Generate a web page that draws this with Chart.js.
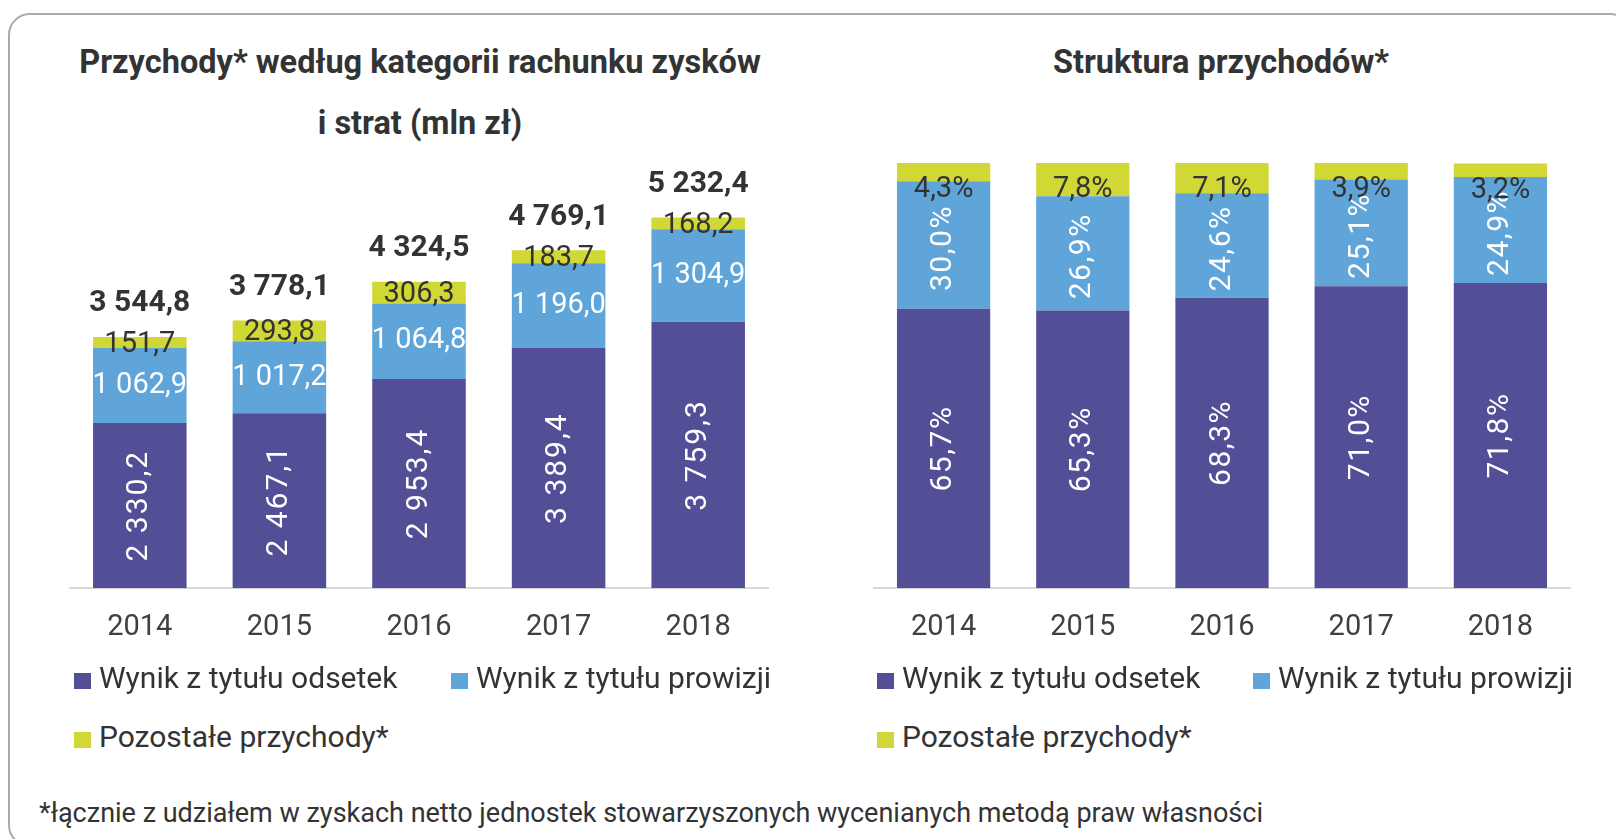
<!DOCTYPE html>
<html>
<head>
<meta charset="utf-8">
<script src="https://cdn.jsdelivr.net/npm/chart.js@4"></script>
<style>
  body { margin: 0; background: #fff; font-family: Roboto, "Noto Sans", sans-serif; color: #333; }
  #page { position: relative; width: 1616px; height: 839px; overflow: hidden; }
  #frame { position: absolute; left: 8px; top: 13px; width: 1620px; height: 830px; border: 2px solid #aaa; border-radius: 22px; }
  .title { position: absolute; font-weight: bold; font-size: 32.5px; text-align: center; color: #333; line-height: 61px; }
  canvas { position: absolute; }
  .leg { position: absolute; font-size: 30px; color: #333; white-space: nowrap; line-height: 34px; }
  .leg i { display: inline-block; width: 17px; height: 16px; margin-right: 8px; vertical-align: -1px; }
  #note { position: absolute; left: 39px; top: 797px; font-size: 27px; color: #333; white-space: nowrap; }
</style>
</head>
<body>
<div id="page">
  <div id="frame"></div>
  <div class="title" style="left:70px; width:700px; top:32px;">Przychody* według kategorii rachunku zysków<br>i strat (mln zł)</div>
  <div class="title" style="left:874px; width:694px; top:32px;">Struktura przychodów*</div>
  <canvas id="left" width="760" height="527" style="left:40px; top:140px;"></canvas>
  <canvas id="right" width="760" height="527" style="left:844px; top:140px;"></canvas>
  <div id="legends"></div>
  <div id="note">*łącznie z udziałem w zyskach netto jednostek stowarzyszonych wycenianych metodą praw własności</div>
</div>
<script>
const years = ['2014', '2015', '2016', '2017', '2018'];
const seriesNames = ['Wynik z tytułu odsetek', 'Wynik z tytułu prowizji', 'Pozostałe przychody*'];
const colors = ['#534f97', '#60a5da', '#d1d836'];

// mln zł
const odsetki = [2330.2, 2467.1, 2953.4, 3389.4, 3759.3];
const prowizje = [1062.9, 1017.2, 1064.8, 1196.0, 1304.9];
const pozostale = [151.7, 293.8, 306.3, 183.7, 168.2];

// struktura, %
const udzOdsetki = [65.7, 65.3, 68.3, 71.0, 71.8];
const udzProwizje = [30.0, 26.9, 24.6, 25.1, 24.9];
const udzPozostale = [4.3, 7.8, 7.1, 3.9, 3.2];

function plNum(v) {
  const s = v.toFixed(1).split('.');
  return s[0].replace(/\B(?=(\d{3})+(?!\d))/g, ' ') + ',' + s[1];
}

// labels inside / above the stacked bars
const segLabels = {
  id: 'segLabels',
  afterDatasetsDraw(chart, args, opts) {
    const ctx = chart.ctx;
    chart.data.datasets.forEach((ds, i) => {
      const cfg = opts.sets[i];
      if (!cfg) return;
      chart.getDatasetMeta(i).data.forEach((bar, j) => {
        const p = bar.getProps(['x', 'y', 'base'], true);
        const y = cfg.fromTop ? p.y + cfg.dy : (p.y + p.base) / 2 + (cfg.dy || 0);
        ctx.save();
        ctx.translate(p.x, y);
        if (cfg.rotate) ctx.rotate(-Math.PI / 2);
        ctx.font = cfg.font;
        ctx.fillStyle = cfg.color;
        ctx.letterSpacing = cfg.spacing || '0px';
        ctx.textAlign = 'center';
        ctx.textBaseline = 'middle';
        ctx.fillText(opts.format(ds.data[j]), 0, 0);
        ctx.restore();
      });
    });
    if (opts.totals) {
      const last = chart.getDatasetMeta(chart.data.datasets.length - 1);
      last.data.forEach((bar, j) => {
        const sum = chart.data.datasets.reduce((a, ds) => a + ds.data[j], 0);
        ctx.save();
        ctx.font = 'bold 30px Roboto';
        ctx.fillStyle = '#333';
        ctx.textAlign = 'center';
        ctx.textBaseline = 'middle';
        ctx.fillText(plNum(sum), bar.x, bar.y - 33);
        ctx.restore();
      });
    }
  }
};

function makeChart(id, series, max, padding, labelOpts) {
  return new Chart(document.getElementById(id), {
    type: 'bar',
    data: {
      labels: years,
      datasets: series.map((d, i) => ({
        label: seriesNames[i],
        data: d,
        backgroundColor: colors[i],
        borderWidth: 0,
        barPercentage: 0.67,
        categoryPercentage: 1
      }))
    },
    options: {
      responsive: false,
      animation: false,
      layout: { padding: padding },
      plugins: {
        legend: { display: false },
        tooltip: { enabled: false },
        segLabels: labelOpts
      },
      scales: {
        x: {
          stacked: true,
          grid: { display: false, drawTicks: false },
          border: { display: true, color: '#d9d9d9', width: 2 },
          ticks: { color: '#404040', font: { family: 'Roboto', size: 29 }, padding: 22 }
        },
        y: { stacked: true, display: false, min: 0, max: max }
      }
    },
    plugins: [segLabels]
  });
}

makeChart('left', [odsetki, prowizje, pozostale], 6000,
  { left: 30, right: 32, top: 23, bottom: 0 },
  {
    format: plNum,
    totals: true,
    sets: [
      { rotate: true, font: '30px Roboto', color: '#fff', spacing: '2px' },
      { font: '29px Roboto', color: '#fff' },
      { font: '29px Roboto', color: '#333', dy: 2 }
    ]
  });

makeChart('right', [udzOdsetki, udzProwizje, udzPozostale], 100,
  { left: 30, right: 34, top: 23, bottom: 0 },
  {
    format: v => plNum(v) + '%',
    sets: [
      { rotate: true, font: '30px Roboto', color: '#fff', spacing: '1.5px' },
      { rotate: true, font: '30px Roboto', color: '#fff', spacing: '1.5px', dy: 3 },
      { fromTop: true, dy: 27, font: '29px Roboto', color: '#333' }
    ]
  });

// legends (two per row, third wraps)
const legendSpots = [
  [[74, 661], [451, 661], [74, 720]],
  [[877, 661], [1253, 661], [877, 720]]
];
const legHost = document.getElementById('legends');
legendSpots.forEach(spots => {
  spots.forEach((pt, i) => {
    const el = document.createElement('div');
    el.className = 'leg';
    el.style.left = pt[0] + 'px';
    el.style.top = pt[1] + 'px';
    el.innerHTML = '<i style="background:' + colors[i] + '"></i>' + seriesNames[i];
    legHost.appendChild(el);
  });
});
</script>
</body>
</html>
